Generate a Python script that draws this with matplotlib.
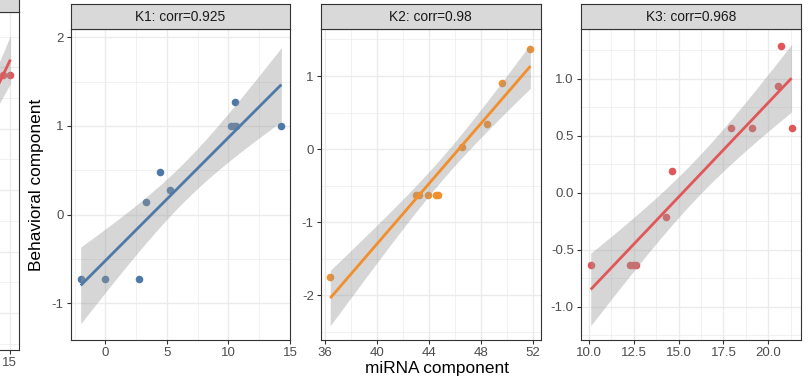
import numpy as np
import matplotlib
matplotlib.use("Agg")
import matplotlib.pyplot as plt

plt.rcParams["font.family"] = ["Liberation Sans", "DejaVu Sans"]
plt.rcParams["axes.unicode_minus"] = False

# data
k1_x = np.array([-2.0, 0.0, 2.75, 3.3, 4.45, 5.25, 10.2, 10.45, 10.6, 10.5, 14.3])
k1_y = np.array([-0.73, -0.73, -0.73, 0.14, 0.48, 0.28, 1.0, 1.0, 1.0, 1.27, 1.0])

k2_x = np.array([36.4, 43.0, 43.2, 43.9, 44.5, 44.7, 46.55, 48.45, 49.6, 51.8])
k2_y = np.array([-1.75, -0.625, -0.625, -0.625, -0.625, -0.625, 0.025, 0.34, 0.91, 1.37])

k3_x = np.array([10.1, 12.3, 12.45, 12.6, 14.3, 14.65, 17.9, 19.1, 20.55, 20.7, 21.3])
k3_y = np.array([-0.63, -0.63, -0.63, -0.63, -0.21, 0.19, 0.57, 0.57, 0.935, 1.29, 0.57])

# panel cut off at the left edge (only a sliver is visible)
cut_x = np.array([9.0, 10.5, 12.0, 13.0, 14.65, 15.05])
cut_y = np.array([-0.9, -0.3, 0.2, 0.55, 0.94, 0.94])

titles = ["K1: corr=0.925", "K2: corr=0.98", "K3: corr=0.968"]
colors = ["#4E79A7", "#F28E2B", "#E15759"]

T975 = {4: 2.776, 5: 2.571, 6: 2.447, 7: 2.365, 8: 2.306, 9: 2.262, 10: 2.228}

W, H = 812, 383
fig = plt.figure(figsize=(W / 100, H / 100), dpi=100)


def rect(left, top, right, bottom):
    return [left / W, 1 - bottom / H, (right - left) / W, (bottom - top) / H]


def smooth(ax, x, y, color):
    b, a = np.polyfit(x, y, 1)
    xs = np.linspace(x.min(), x.max(), 100)
    n = len(x)
    yhat = a + b * xs
    s = np.sqrt(np.sum((y - (a + b * x)) ** 2) / (n - 2))
    se = s * np.sqrt(1 / n + (xs - x.mean()) ** 2 / np.sum((x - x.mean()) ** 2))
    t = T975[n - 2]
    ax.fill_between(xs, yhat - t * se, yhat + t * se, color="#999999", alpha=0.4,
                    lw=0, zorder=3)
    ax.plot(xs, yhat, color=color, lw=2.0, zorder=4, solid_capstyle="butt")


def minors(t):
    t = np.array(t, dtype=float)
    step = t[1] - t[0]
    return list((t[:-1] + t[1:]) / 2) + [t[0] - step / 2, t[-1] + step / 2]


def style(ax, xlim, ylim):
    ax.set_xlim(xlim)
    ax.set_ylim(ylim)
    ax.grid(True, which="major", color="#EBEBEB", lw=1.0, zorder=0)
    ax.grid(True, which="minor", color="#EBEBEB", lw=0.5, zorder=0)
    ax.set_axisbelow(True)
    ax.tick_params(which="major", length=3, width=0.8, color="#333333",
                   labelsize=9.5, labelcolor="#4D4D4D", pad=2)
    ax.tick_params(which="minor", length=0)
    for sp in ax.spines.values():
        sp.set_color("#333333")
        sp.set_linewidth(0.8)


def strip(left, top, right, title):
    st = fig.add_axes(rect(left, top - 25, right, top))
    st.set_facecolor("#D9D9D9")
    st.set_xticks([])
    st.set_yticks([])
    for sp in st.spines.values():
        sp.set_color("#333333")
        sp.set_linewidth(0.8)
    st.text(0.5, 0.47, title, ha="center", va="center", fontsize=9.9, color="#1A1A1A",
            transform=st.transAxes)


def panel(box, x, y, color, title, xlim, ylim, xt, yt, fmt):
    left, top, right, bottom = box
    ax = fig.add_axes(rect(left, top, right, bottom))
    ax.scatter(x, y, s=30, color=color, lw=0, zorder=2)
    smooth(ax, x, y, color)
    ax.set_xticks(xt)
    ax.set_yticks(yt)
    ax.set_xticks(minors(xt), minor=True)
    ax.set_yticks(minors(yt), minor=True)
    ax.set_xticklabels([fmt.format(v) for v in xt])
    ax.set_yticklabels([fmt.format(v) for v in yt])
    style(ax, xlim, ylim)
    strip(left, top, right, title)
    return ax


# sliver of the previous panel
cut = fig.add_axes(rect(-200, 12, 18.5, 350))
cut.scatter(cut_x, cut_y, s=30, color=colors[2], lw=0, zorder=2)
smooth(cut, cut_x, cut_y, colors[2])
cut.set_xticks([15])
cut.set_xticklabels(["15"])
cut.set_yticks([-1.0, -0.5, 0.0, 0.5, 1.0])
cut.set_yticklabels([])
cut.tick_params(axis="y", which="major", length=0)
cut.set_xticks([5, 7.5, 10, 12.5], minor=True)
cut.set_yticks([-1.25, -0.75, -0.25, 0.25, 0.75, 1.25], minor=True)
style(cut, (3.36, 15.5), (-1.3, 1.45))
strip(-200, 12, 18.5, "")

panel((70.7, 29, 290, 340), k1_x, k1_y, colors[0], titles[0],
      (-2.81, 15.0), (-1.414, 2.094), [0, 5, 10, 15], [-1, 0, 1, 2], "{:g}")
panel((320.7, 29, 540.7, 340), k2_x, k2_y, colors[1], titles[1],
      (35.67, 52.59), (-2.611, 1.643), [36, 40, 44, 48, 52], [-2, -1, 0, 1], "{:g}")
panel((580.7, 29, 800.7, 340), k3_x, k3_y, colors[2], titles[2],
      (9.54, 21.81), (-1.292, 1.436), [10.0, 12.5, 15.0, 17.5, 20.0],
      [-1.0, -0.5, 0.0, 0.5, 1.0], "{:.1f}")

fig.text(37 / W, 1 - 185 / H, "Behavioral component", rotation=90, ha="center",
         va="center", fontsize=12.4, color="black")
fig.text(436.7 / W, 1 - 369 / H, "miRNA component", ha="center", va="center",
         fontsize=12.4, color="black")

fig.savefig("out.png", dpi=100)
